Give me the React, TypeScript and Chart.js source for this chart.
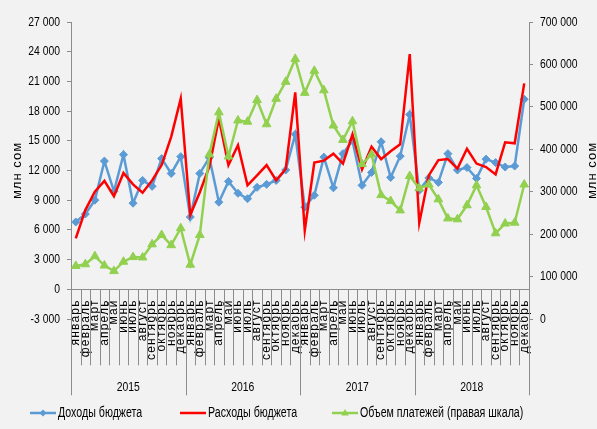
import React, { useEffect, useRef } from 'react';
import { Chart, registerables, CategoryScale, LinearScale } from 'chart.js';

Chart.register(...registerables);

// ---------- data ----------
const years = ['2015', '2016', '2017', '2018'];
const months = ['январь', 'февраль', 'март', 'апрель', 'май', 'июнь', 'июль', 'август', 'сентябрь', 'октябрь', 'ноябрь', 'декабрь'];
const labels = years.flatMap(() => months);

const revenues = [
  6800, 7600, 9000, 12950, 9900, 13600, 8700, 11000, 10400, 13200, 11700, 13400,
  7300, 11700, 13300, 8800, 10900, 9700, 9150, 10300, 10600, 11000, 12050, 15650,
  8300, 9500, 13350, 10250, 13700, 15000, 10500, 11800, 14900, 11300, 13450, 17650,
  10000, 11250, 10800, 13700, 12050, 12300, 11200, 13150, 12800, 12350, 12450, 19200,
];
const expenditures = [
  5150, 8000, 9850, 10950, 9400, 11750, 10600, 9750, 11000, 12550, 15400, 19250,
  7500, 9800, 12400, 17250, 12550, 14550, 10500, 11500, 12550, 11000, 12150, 19900,
  5950, 12800, 13000, 13700, 12700, 15650, 12100, 14400, 13150, 13950, 14650, 23750,
  6700, 11500, 13050, 13150, 12200, 14200, 12700, 12350, 11600, 14850, 14750, 20800,
];
const payments = [
  125000, 129000, 148000, 126000, 113000, 135000, 146000, 145000, 176000, 198000, 174000, 214000,
  128000, 198000, 388000, 487000, 383000, 468000, 465000, 516000, 459000, 519000, 559000, 613000,
  533000, 585000, 539000, 456000, 422000, 466000, 365000, 388000, 292000, 278000, 256000, 337000,
  308000, 317000, 282000, 237000, 235000, 268000, 315000, 264000, 202000, 225000, 227000, 317000,
];
const leftTicks = { min: -3000, max: 27000, step: 3000 };
const rightTicks = { min: 0, max: 700000, step: 100000 };
const seriesNames = ['Доходы бюджета', 'Расходы бюджета', 'Объем платежей (правая шкала)'];
const axisTitle = 'млн сом';

// ---------- styles ----------
const BLUE = '#5b9bd5';
const RED = '#ff0000';
const GREEN = '#92d050';
const AXIS = '#8c8c8c';
const FONT = '"Liberation Sans", Arial, sans-serif';
const CONDENSE = 0.8;

const fmt = (v: any) => {
  const n = Number(v);
  const s = Math.abs(n).toString().replace(/\B(?=(\d{3})+(?!\d))/g, ' ');
  return (n < 0 ? '-' : '') + s;
};

// draws a scale's own label items with a horizontal squeeze / letter spacing
function drawItems(scale: any, sx: number, spacing: string) {
  const ctx = scale.ctx;
  const items = scale.getLabelItems(scale.chart.chartArea);
  ctx.save();
  for (const item of items) {
    const o = item.options;
    ctx.save();
    ctx.translate(o.translation[0], o.translation[1]);
    ctx.rotate(o.rotation);
    ctx.scale(sx, 1);
    ctx.font = item.font.string;
    ctx.fillStyle = o.color;
    ctx.textAlign = o.textAlign;
    ctx.textBaseline = o.textBaseline;
    ctx.letterSpacing = spacing;
    const lines = Array.isArray(item.label) ? item.label : [item.label];
    lines.forEach((l: string, j: number) => ctx.fillText(l, 0, item.textOffset + j * item.font.lineHeight));
    ctx.restore();
  }
  ctx.restore();
}

function makeScale(Base: any, id: string, sx: number, spacing: string) {
  class S extends Base {
    drawLabels() {
      drawItems(this, sx, spacing);
    }
  }
  (S as any).id = id;
  (S as any).defaults = Base.defaults;
  Chart.register(S as any);
}
makeScale(CategoryScale, 'monthCategory', 1, '1.2px');
makeScale(CategoryScale, 'yearCategory', CONDENSE, '0px');
makeScale(LinearScale, 'condensedLinear', CONDENSE, '0px');

const decor = {
  id: 'decor',
  beforeDraw(chart: any) {
    const { ctx, width, height } = chart;
    ctx.save();
    ctx.fillStyle = '#f2f2f2';
    ctx.fillRect(0, 0, width, height);
    ctx.restore();
  },
  afterDraw(chart: any) {
    const ctx = chart.ctx;
    const xs = chart.scales.x;
    const ys = chart.scales.y;
    const y0 = ys.getPixelForValue(0);
    const n = labels.length;
    ctx.save();
    ctx.strokeStyle = AXIS;
    ctx.lineWidth = 1;
    for (let k = 0; k <= n; k++) {
      let px;
      if (k === 0) px = xs.left;
      else if (k === n) px = xs.right;
      else px = (xs.getPixelForValue(k - 1) + xs.getPixelForValue(k)) / 2;
      const yearEdge = k % months.length === 0;
      const bottom = yearEdge ? y0 + 106 : y0 + 76;
      px = Math.round(px) + 0.5;
      ctx.beginPath();
      ctx.moveTo(px, y0);
      ctx.lineTo(px, bottom);
      ctx.stroke();
    }
    // axis titles
    const cy = (chart.chartArea.top + chart.chartArea.bottom) / 2;
    ctx.fillStyle = '#000';
    ctx.font = '13px ' + FONT;
    ctx.textAlign = 'center';
    ctx.textBaseline = 'middle';
    ctx.letterSpacing = '1px';
    [17.5, 592].forEach((tx) => {
      ctx.save();
      ctx.translate(tx, cy);
      ctx.rotate(-Math.PI / 2);
      ctx.fillText(axisTitle, 0, 0);
      ctx.restore();
    });
    ctx.letterSpacing = '0px';
    // legend
    const ly = 413;
    const starts = [30, 180, 332];
    chart.data.datasets.forEach((ds: any, i: number) => {
      const lx = starts[i];
      ctx.strokeStyle = ds.borderColor;
      ctx.lineWidth = 2.5;
      ctx.beginPath();
      ctx.moveTo(lx, ly);
      ctx.lineTo(lx + 26, ly);
      ctx.stroke();
      const mx = lx + 13;
      ctx.fillStyle = ds.borderColor;
      if (ds.pointStyle === 'rectRot') {
        ctx.beginPath();
        ctx.moveTo(mx, ly - 3.5);
        ctx.lineTo(mx + 3.5, ly);
        ctx.lineTo(mx, ly + 3.5);
        ctx.lineTo(mx - 3.5, ly);
        ctx.closePath();
        ctx.fill();
      } else if (ds.pointStyle === 'triangle') {
        ctx.beginPath();
        ctx.moveTo(mx, ly - 4);
        ctx.lineTo(mx + 3.8, ly + 2.5);
        ctx.lineTo(mx - 3.8, ly + 2.5);
        ctx.closePath();
        ctx.fill();
      }
      ctx.save();
      ctx.translate(lx + 28, ly);
      ctx.scale(0.76, 1);
      ctx.fillStyle = '#000';
      ctx.font = '14px ' + FONT;
      ctx.textAlign = 'left';
      ctx.textBaseline = 'middle';
      ctx.fillText(ds.label, 0, 0);
      ctx.restore();
    });
    ctx.restore();
  },
};

export default function App() {
  const ref = useRef<HTMLCanvasElement | null>(null);
  useEffect(() => {
    if (!ref.current) return;
    const tickFont = { family: FONT, size: 13 };
    const chart = new Chart(ref.current, {
      type: 'line',
      data: {
        labels,
        datasets: [
          {
            label: seriesNames[0], data: revenues, borderColor: BLUE, backgroundColor: BLUE,
            borderWidth: 2.5, pointStyle: 'rectRot', pointRadius: 4, pointBorderWidth: 1,
            pointBackgroundColor: BLUE, pointBorderColor: BLUE, yAxisID: 'y', order: 3, tension: 0,
          },
          {
            label: seriesNames[1], data: expenditures, borderColor: RED, backgroundColor: RED,
            borderWidth: 2.5, pointRadius: 0, yAxisID: 'y', order: 2, tension: 0,
          },
          {
            label: seriesNames[2], data: payments, borderColor: GREEN, backgroundColor: GREEN,
            borderWidth: 2.5, pointStyle: 'triangle', pointRadius: 5, pointBorderWidth: 1,
            pointBackgroundColor: GREEN, pointBorderColor: GREEN, yAxisID: 'y1', order: 1, tension: 0,
          },
        ] as any,
      },
      options: {
        animation: false,
        responsive: false,
        events: [],
        layout: { padding: { top: 22, bottom: 110, left: 0, right: 0 } },
        plugins: { legend: { display: false }, tooltip: { enabled: false } },
        scales: {
          x: {
            type: 'monthCategory' as any,
            position: { y: 0 } as any,
            offset: true,
            grid: { display: true, drawOnChartArea: false, drawTicks: false },
            border: { display: true, color: AXIS, width: 1 },
            ticks: {
              autoSkip: false, minRotation: 90, maxRotation: 90, padding: 10,
              font: { family: FONT, size: 12 }, color: '#000',
            },
          } as any,
          x2: {
            type: 'yearCategory' as any,
            labels: years,
            position: { y: 0 } as any,
            offset: true,
            grid: { display: false, drawTicks: false },
            border: { display: false },
            ticks: { padding: 90, maxRotation: 0, minRotation: 0, font: { family: FONT, size: 13 }, color: '#000' },
          } as any,
          y: {
            type: 'condensedLinear' as any,
            position: 'left',
            min: leftTicks.min, max: leftTicks.max,
            ticks: { stepSize: leftTicks.step, padding: 7, font: tickFont, color: '#000', callback: fmt },
            grid: { drawOnChartArea: false, drawTicks: true, tickLength: 4, color: AXIS },
            border: { display: true, color: AXIS },
            afterFit: (s: any) => { s.width = 71; },
          } as any,
          y1: {
            type: 'condensedLinear' as any,
            position: 'right',
            min: rightTicks.min, max: rightTicks.max,
            ticks: { stepSize: rightTicks.step, padding: 7, font: tickFont, color: '#000', callback: fmt },
            grid: { drawOnChartArea: false, drawTicks: true, tickLength: 4, color: AXIS },
            border: { display: true, color: AXIS },
            afterFit: (s: any) => { s.width = 68; },
          } as any,
        },
      },
      plugins: [decor],
    });
    return () => chart.destroy();
  }, []);
  return (
    <div style={{ position: 'fixed', left: 0, top: 0, width: 597, height: 429, background: '#f2f2f2' }}>
      <canvas ref={ref} width={597} height={429} style={{ display: 'block' }} />
    </div>
  );
}
